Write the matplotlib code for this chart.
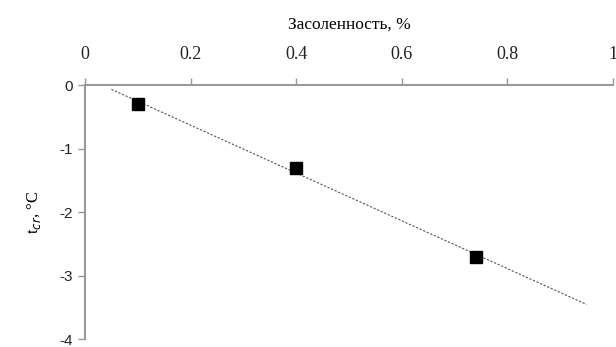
import numpy as np
import matplotlib.pyplot as plt

# Data
salinity = [0.1, 0.4, 0.74]
t_cr = [-0.3, -1.3, -2.7]
x_ticks = [0, 0.2, 0.4, 0.6, 0.8, 1]
x_tick_labels = ['0', '0.2', '0.4', '0.6', '0.8', '1']
y_ticks = [0, -1, -2, -3, -4]

fig = plt.figure(figsize=(6.16, 3.47), dpi=100)
ax = fig.add_axes([0.138, 0.022, 0.857, 0.733])

# linear trend
k, b = np.polyfit(salinity, t_cr, 1)
xt = np.array([0.05, 0.95])
ax.plot(xt, k * xt + b, linestyle=(0, (2, 1.5)), color='#555555', linewidth=0.8)

ax.plot(salinity, t_cr, 's', color='black', markersize=8, zorder=3)

ax.set_xlim(0, 1)
ax.set_ylim(-4, 0)

ax.xaxis.tick_top()
ax.xaxis.set_label_position('top')
ax.set_xticks(x_ticks)
ax.set_xticklabels(x_tick_labels, fontfamily='Liberation Serif', fontsize=13)
ax.set_yticks(y_ticks)
ax.set_yticklabels([str(v) for v in y_ticks], fontfamily='Liberation Sans', fontsize=11)

ax.set_xlabel('Засоленность, %', fontfamily='Liberation Serif', fontsize=12.5, labelpad=12)
ax.set_ylabel('t$_{cr}$, °C', fontfamily='Liberation Serif', fontsize=12, labelpad=12)

for side in ['right', 'bottom']:
    ax.spines[side].set_visible(False)
for side in ['left', 'top']:
    ax.spines[side].set_color('#999999')
    ax.spines[side].set_linewidth(1.5)
ax.tick_params(axis='both', colors='#999999', length=5, width=1, labelcolor='#222222')
ax.tick_params(axis='x', pad=11)

plt.savefig('out.png', dpi=100)
